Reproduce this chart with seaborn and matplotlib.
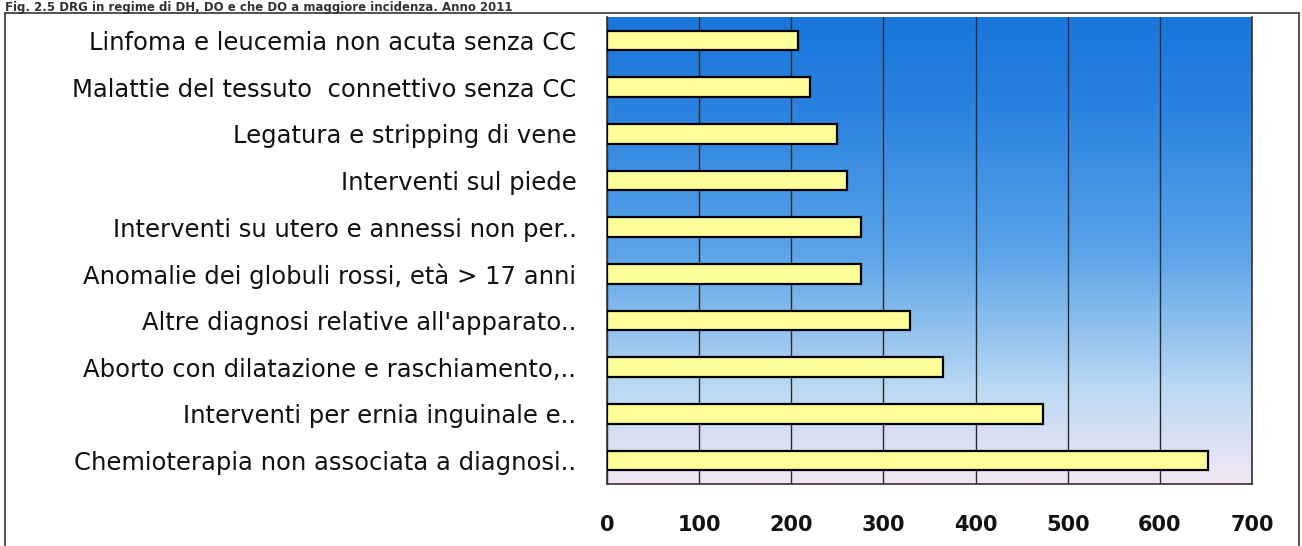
import numpy as np
import pandas as pd
import seaborn as sns
import matplotlib.pyplot as plt
from matplotlib.colors import LinearSegmentedColormap
from matplotlib.patches import Rectangle

# DRG labels (top to bottom) and values
categories = [
    "Linfoma e leucemia non acuta senza CC",
    "Malattie del tessuto  connettivo senza CC",
    "Legatura e stripping di vene",
    "Interventi sul piede",
    "Interventi su utero e annessi non per..",
    "Anomalie dei globuli rossi, età > 17 anni",
    "Altre diagnosi relative all'apparato..",
    "Aborto con dilatazione e raschiamento,..",
    "Interventi per ernia inguinale e..",
    "Chemioterapia non associata a diagnosi..",
]
values = [207, 220, 250, 260, 276, 276, 329, 365, 473, 652]
x_ticks = [0, 100, 200, 300, 400, 500, 600, 700]
caption = "Fig. 2.5 DRG in regime di DH, DO e che DO a maggiore incidenza. Anno 2011"

df = pd.DataFrame({"DRG": categories, "Casi": values})

sns.set_style("white")
plt.rcParams["font.family"] = ["DejaVu Sans"]

fig = plt.figure(figsize=(13.02, 5.46), dpi=100)
ax = fig.add_axes([607 / 1302, 1 - 484 / 546, (1252 - 607) / 1302, (484 - 17) / 546])

# blue -> pale lavender background gradient
bg = LinearSegmentedColormap.from_list(
    "bg", [(0.0, "#f3e7f5"), (0.2, "#bcd9f3"), (0.5, "#5aa3e9"), (0.8, "#2a83e0"), (1.0, "#1876dc")])
grad = np.linspace(0, 1, 256).reshape(-1, 1)
ax.imshow(grad, extent=[0, 1, 0, 1], transform=ax.transAxes, origin="lower",
          aspect="auto", cmap=bg, zorder=0)

sns.barplot(data=df, x="Casi", y="DRG", orient="h", color="#ffff99",
            saturation=1, edgecolor="black", linewidth=1.6, width=0.42, ax=ax, zorder=3)

ax.set_xlim(0, 700)
ax.set_ylim(9.5, -0.5)
ax.set_xticks(x_ticks)
ax.set_xticklabels([str(t) for t in x_ticks], fontsize=15, fontweight="bold", color="#111")
ax.tick_params(axis="x", length=8, width=1.2, color="#333", pad=14)
ax.set_yticks(range(len(categories)))
ax.set_yticklabels(categories, fontsize=17.5, color="#111")
ax.set_yticks(np.arange(-0.5, len(categories), 1), minor=True)
ax.tick_params(axis="y", which="major", length=0, pad=22)
ax.tick_params(axis="y", which="minor", length=9, width=1.2, color="#333")
ax.xaxis.grid(True, color="#2a2a2a", lw=1.0, zorder=1)
ax.set_xlabel("")
ax.set_ylabel("")
for side in ["left", "bottom", "right"]:
    ax.spines[side].set_visible(True)
    ax.spines[side].set_color("#333")
    ax.spines[side].set_linewidth(1.2)
ax.spines["top"].set_visible(False)

# outer chart frame and caption above it
fig.patches.append(Rectangle((5 / 1302, -0.05), 1294 / 1302, 1.05 - 13 / 546,
                             transform=fig.transFigure, fill=False,
                             edgecolor="#444", lw=1.3))
fig.text(0.004, 0.999, caption, va="top", ha="left", fontsize=8.5,
         fontweight="bold", color="#333")

fig.savefig("out.png", dpi=100, facecolor="white")
